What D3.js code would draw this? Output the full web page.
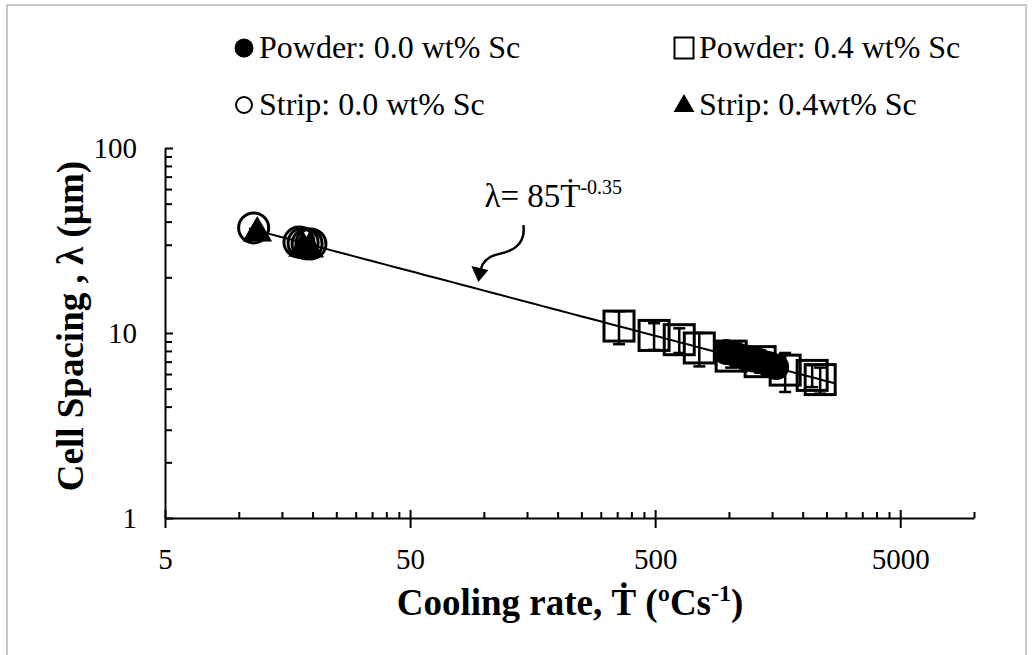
<!DOCTYPE html>
<html>
<head>
<meta charset="utf-8">
<script src="https://cdn.jsdelivr.net/npm/d3@7.9.0/dist/d3.min.js"></script>
<style>
  body { margin: 0; background: #fff; }
  svg { display: block; font-family: "Liberation Serif", "Times New Roman", serif; }
</style>
</head>
<body>
<svg id="chart" width="1034" height="655"></svg>
<script>
// values: cooling rate (ºC/s) vs cell spacing (µm)
const powder00Rate = [975, 1061, 1154, 1244, 1341, 1446, 1559];
const powder00Spacing = [7.9, 7.7, 7.4, 7.2, 7.05, 6.8, 6.55];
const powder00Err = [0.8, 0.7, 0.7, 0.7, 0.7, 0.7, 0.8];

const powder04Rate = [356, 495, 627, 757, 1021, 1341, 1696, 2186, 2357];
const powder04Spacing = [10.9, 9.7, 9.2, 8.3, 7.5, 7.0, 6.3, 5.9, 5.6];
const powder04Err = [2.2, 1.6, 1.4, 1.7, 1.0, 0.9, 1.5, 0.8, 0.9];

const strip00Rate = [11.5, 17.6, 18.3, 19.0, 19.7];
const strip00Spacing = [37.0, 31.0, 30.7, 30.3, 30.3];

const strip04Rate = [11.9, 18.3, 19.4];
const strip04Spacing = [35.6, 29.5, 29.2];

// power-law fit  λ = 85 Ṫ^-0.35
const fitCoef = 85;
const fitExp = -0.35;
const fitRange = [11, 2700];
const arrowAt = 95;

const xTickValues = [5, 50, 500, 5000];
const xTickLabels = ['5', '50', '500', '5000'];
const yTickValues = [1, 10, 100];
const yTickLabels = ['1', '10', '100'];

const legendLabels = ['Powder: 0.0 wt% Sc', 'Powder: 0.4 wt% Sc', 'Strip: 0.0 wt% Sc', 'Strip: 0.4wt% Sc'];

const svg = d3.select('#chart');

// light frame around the picture
svg.append('rect')
  .attr('x', 7).attr('y', 5).attr('width', 1019).attr('height', 700)
  .attr('fill', 'none').attr('stroke', '#c8c8c8').attr('stroke-width', 2);

const x = d3.scaleLog().domain([5, 10000]).range([165, 974]);
const y = d3.scaleLog().domain([1, 100]).range([518, 148]);

let xMinor = [];
xTickValues.forEach(d => { for (let m = 2; m <= 9; m++) if (d * m <= 10000) xMinor.push(d * m); });
let yMinor = [];
[1, 10].forEach(d => { for (let m = 2; m <= 9; m++) yMinor.push(d * m); });

const fit = t => fitCoef * Math.pow(t, fitExp);

// axes
const gx = svg.append('g').attr('transform', `translate(0,${y(1)})`)
  .call(d3.axisBottom(x).tickValues(xTickValues).tickFormat((d, i) => xTickLabels[i]).tickSizeInner(10).tickSizeOuter(0).tickPadding(20));
gx.selectAll('.tick line').attr('y1', -8);
gx.append('g')
  .call(d3.axisTop(x).tickValues(xMinor).tickFormat('').tickSizeInner(6).tickSizeOuter(0))
  .select('.domain').remove();

const gy = svg.append('g').attr('transform', `translate(${x(5)},0)`)
  .call(d3.axisLeft(y).tickValues(yTickValues).tickFormat((d, i) => yTickLabels[i]).tickSizeInner(8).tickSizeOuter(0).tickPadding(20));
gy.selectAll('.tick line').attr('x2', 8);
gy.append('g')
  .call(d3.axisRight(y).tickValues(yMinor).tickFormat('').tickSizeInner(7).tickSizeOuter(0))
  .select('.domain').remove();

svg.selectAll('.domain, .tick line').attr('stroke', '#000').attr('stroke-width', 2);
svg.selectAll('.tick text')
  .attr('fill', '#000')
  .attr('font-family', '"Liberation Serif", serif')
  .attr('font-size', 29);
gx.selectAll('.tick text').attr('dy', '0.71em');
gy.selectAll('.tick text').attr('dy', '0.34em');

// axis titles
const xTitle = svg.append('text')
  .attr('x', 570).attr('y', 615)
  .attr('text-anchor', 'middle')
  .attr('font-size', 37).attr('font-weight', 'bold');
xTitle.append('tspan').text('Cooling rate, Ṫ (ºCs');
xTitle.append('tspan').attr('dy', -14).attr('font-size', 24).text('-1');
xTitle.append('tspan').attr('dy', 14).text(')');

svg.append('text')
  .attr('transform', 'translate(83,326) rotate(-90)')
  .attr('text-anchor', 'middle')
  .attr('font-size', 37).attr('font-weight', 'bold')
  .text('Cell Spacing , λ (µm)');

// fit line
const fitPts = d3.range(0, 61).map(i => {
  const t = fitRange[0] * Math.pow(fitRange[1] / fitRange[0], i / 60);
  return [t, fit(t)];
});
svg.append('path')
  .attr('d', d3.line().x(d => x(d[0])).y(d => y(d[1]))(fitPts))
  .attr('fill', 'none').attr('stroke', '#000').attr('stroke-width', 2);

// error bars
function errorBars(rates, vals, errs) {
  const g = svg.append('g').attr('stroke', '#000').attr('stroke-width', 2.5);
  rates.forEach((r, i) => {
    const cx = x(r), top = y(vals[i] + errs[i]), bot = y(vals[i] - errs[i]);
    g.append('line').attr('x1', cx).attr('x2', cx).attr('y1', top).attr('y2', bot);
    g.append('line').attr('x1', cx - 6).attr('x2', cx + 6).attr('y1', top).attr('y2', top);
    g.append('line').attr('x1', cx - 6).attr('x2', cx + 6).attr('y1', bot).attr('y2', bot);
  });
}
errorBars(powder04Rate, powder04Spacing, powder04Err);
errorBars(powder00Rate, powder00Spacing, powder00Err);

// powder 0.4: open squares
svg.append('g').selectAll('rect')
  .data(powder04Rate)
  .join('rect')
  .attr('x', (d, i) => x(d) - 15).attr('y', (d, i) => y(powder04Spacing[i]) - 15)
  .attr('width', 30).attr('height', 30)
  .attr('fill', 'none').attr('stroke', '#000').attr('stroke-width', 3);

// powder 0.0: filled circles
svg.append('g').selectAll('circle')
  .data(powder00Rate)
  .join('circle')
  .attr('cx', d => x(d)).attr('cy', (d, i) => y(powder00Spacing[i]))
  .attr('r', 13).attr('fill', '#000');

// strip 0.4: filled triangles
const tri = d3.symbol().type(d3.symbolTriangle).size(380);
svg.append('g').selectAll('path')
  .data(strip04Rate)
  .join('path')
  .attr('d', tri)
  .attr('transform', (d, i) => `translate(${x(d)},${y(strip04Spacing[i]) + 2})`)
  .attr('fill', '#000');

// strip 0.0: open circles
svg.append('g').selectAll('circle')
  .data(strip00Rate)
  .join('circle')
  .attr('cx', d => x(d)).attr('cy', (d, i) => y(strip00Spacing[i]))
  .attr('r', 15).attr('fill', 'none').attr('stroke', '#000').attr('stroke-width', 3);

// annotation with curved arrow
const tipX = x(arrowAt), tipY = y(fit(arrowAt)) - 7;
const note = svg.append('text')
  .attr('x', tipX + 6).attr('y', tipY - 75)
  .attr('font-size', 33);
note.append('tspan').text('λ= 85Ṫ');
note.append('tspan').attr('dy', -13).attr('font-size', 20).text('-0.35');

svg.append('path')
  .attr('d', `M${tipX + 45},${tipY - 57} C${tipX + 48},${tipY - 35} ${tipX + 30},${tipY - 30} ${tipX + 20},${tipY - 28} C${tipX + 10},${tipY - 26} ${tipX + 4},${tipY - 20} ${tipX + 2},${tipY - 12}`)
  .attr('fill', 'none').attr('stroke', '#000').attr('stroke-width', 2.5);
svg.append('path')
  .attr('d', `M${tipX},${tipY} L${tipX - 7},${tipY - 16} L${tipX + 10},${tipY - 12} Z`)
  .attr('fill', '#000');

// legend
const legendPos = [[244, 48], [684, 48], [244, 105], [684, 105]];
const lg = svg.append('g');
lg.append('circle').attr('cx', legendPos[0][0]).attr('cy', legendPos[0][1]).attr('r', 9.5).attr('fill', '#000');
lg.append('rect').attr('x', legendPos[1][0] - 9.5).attr('y', legendPos[1][1] - 10.5).attr('width', 19).attr('height', 21)
  .attr('fill', 'none').attr('stroke', '#000').attr('stroke-width', 2);
lg.append('circle').attr('cx', legendPos[2][0]).attr('cy', legendPos[2][1]).attr('r', 8).attr('fill', 'none')
  .attr('stroke', '#000').attr('stroke-width', 2);
lg.append('path').attr('d', d3.symbol().type(d3.symbolTriangle).size(190))
  .attr('transform', `translate(${legendPos[3][0]},${legendPos[3][1] + 1})`).attr('fill', '#000');
lg.selectAll('text')
  .data(legendLabels)
  .join('text')
  .attr('x', (d, i) => legendPos[i][0] + 15)
  .attr('y', (d, i) => legendPos[i][1] + 10)
  .attr('font-size', 32)
  .text(d => d);
</script>
</body>
</html>
